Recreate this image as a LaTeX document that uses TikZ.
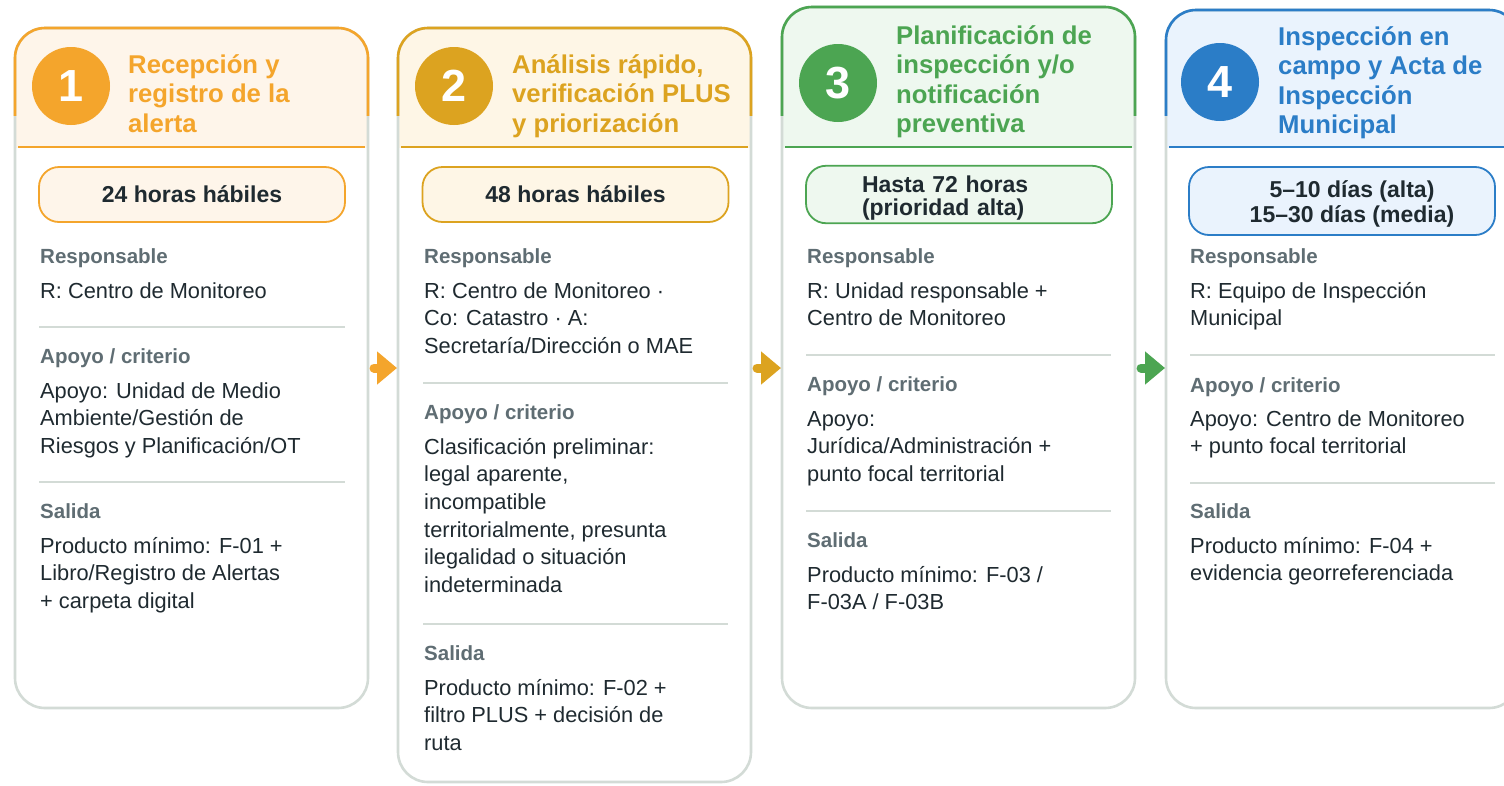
\documentclass[tikz,border=0pt]{standalone}
\usepackage{fontspec}
\setmainfont{Liberation Sans}
\usetikzlibrary{arrows.meta}

\definecolor{accA}{HTML}{F4A52C}
\definecolor{tintA}{HTML}{FEF5EA}
\definecolor{accB}{HTML}{DCA320}
\definecolor{tintB}{HTML}{FEF6E6}
\definecolor{accC}{HTML}{4CA552}
\definecolor{tintC}{HTML}{EEF8EF}
\definecolor{accD}{HTML}{2B7DC7}
\definecolor{tintD}{HTML}{EAF3FD}
\definecolor{framegray}{HTML}{D3DBD6}
\definecolor{headgray}{HTML}{5F6D73}
\definecolor{inkdark}{HTML}{1F2A30}

\tikzset{
  cardframe/.style={line width=2.6pt, rounded corners=30pt},
  stepnum/.style={circle, minimum size=78pt, inner sep=0pt, text=white,
    font=\bfseries\fontsize{45}{45}\selectfont},
  cardtitle/.style={anchor=base west, align=left, inner sep=0pt,
    font=\bfseries\fontsize{25.7}{29.5}\selectfont},
  pillbox/.style={draw, line width=1.8pt, rounded corners=20pt, minimum width=306pt,
    minimum height=55pt, text=inkdark, font=\bfseries\fontsize{23}{23}\selectfont},
  fieldhead/.style={anchor=base west, inner sep=0pt, text=headgray,
    font=\bfseries\fontsize{20.5}{24}\selectfont},
  fieldtext/.style={anchor=base west, align=left, inner sep=0pt, text=inkdark,
    font=\fontsize{21.8}{27.7}\selectfont},
  sepline/.style={draw=framegray, line width=1.5pt},
  flow/.style={line width=9pt, line cap=round, -{Triangle[length=20pt,width=32pt]}}
}

\begin{document}
\begin{tikzpicture}[x=1pt,y=-1pt]
\useasboundingbox (0,0) rectangle (1504,785);

% card frames with tinted headers
\foreach \xa/\ya/\yb/\acc/\bg in {15/28/708/accA/tintA, 398/28/782/accB/tintB,
                                  782/7/708/accC/tintC, 1166/10/708/accD/tintD}
{
  \pgfmathsetmacro\xb{\xa+353}
  \fill[white, rounded corners=30pt] (\xa,\ya) rectangle (\xb,\yb);
  \begin{scope}
    \clip (\xa-5,\ya-5) rectangle (\xb+5,147);
    \fill[\bg, rounded corners=30pt] (\xa,\ya) rectangle (\xb,\yb);
  \end{scope}
  \draw[cardframe, draw=framegray] (\xa,\ya) rectangle (\xb,\yb);
  \begin{scope}
    \clip (\xa-5,\ya-5) rectangle (\xb+5,115);
    \draw[cardframe, draw=\acc] (\xa,\ya) rectangle (\xb,\yb);
  \end{scope}
  \draw[\acc, line width=1.2pt] (\xa+3,147) -- (\xb-3,147);
}

% card 1 (multi-line nodes sit on their last baseline)
\node[stepnum, fill=accA] (n1) at (71,86) {1};
\node[cardtitle, text=accA] (h1) at (128,132) {Recepción y\\registro de la\\alerta};
\node[pillbox, draw=accA, fill=tintA] (t1) at (192,194.5) {24 horas hábiles};
\node[fieldhead] (r1) at (40,263) {Responsable};
\node[fieldtext] (rt1) at (40,298) {R: Centro de Monitoreo};
\draw[sepline] (39,327) -- (345,327);
\node[fieldhead] (a1) at (40,363) {Apoyo / criterio};
\node[fieldtext] (at1) at (40,453.4) {Apoyo: Unidad de Medio\\Ambiente/Gestión de\\Riesgos y Planificación/OT};
\draw[sepline] (39,482) -- (345,482);
\node[fieldhead] (s1) at (40,518) {Salida};
\node[fieldtext] (st1) at (40,608.4) {Producto mínimo: F-01 +\\Libro/Registro de Alertas\\+ carpeta digital};

% card 2
\node[stepnum, fill=accB] (n2) at (454,86) {2};
\node[cardtitle, text=accB] (h2) at (512,132) {Análisis rápido,\\verificación PLUS\\y priorización};
\node[pillbox, draw=accB, fill=tintB] (t2) at (575.5,194.5) {48 horas hábiles};
\node[fieldhead] (r2) at (424,263) {Responsable};
\node[fieldtext] (rt2) at (424,353.4) {R: Centro de Monitoreo ·\\Co: Catastro · A:\\Secretaría/Dirección o MAE};
\draw[sepline] (423,383) -- (728,383);
\node[fieldhead] (a2) at (424,419) {Apoyo / criterio};
\node[fieldtext] (at2) at (424,592.5) {Clasificación preliminar:\\legal aparente,\\incompatible\\territorialmente, presunta\\ilegalidad o situación\\indeterminada};
\draw[sepline] (423,624) -- (728,624);
\node[fieldhead] (s2) at (424,660) {Salida};
\node[fieldtext] (st2) at (424,750.4) {Producto mínimo: F-02 +\\filtro PLUS + decisión de\\ruta};

% card 3
\node[stepnum, fill=accC] (n3) at (838,83) {3};
\node[cardtitle, text=accC] (h3) at (896,132.5) {Planificación de\\inspección y/o\\notificación\\preventiva};
\node[pillbox, draw=accC, fill=tintC, text width=194pt, align=left,
      font=\bfseries\fontsize{23}{23}\selectfont] (t3) at (959,194.5)
      {\rule{0pt}{23pt}Hasta 72 horas\\(prioridad alta)};
\node[fieldhead] (r3) at (807,263) {Responsable};
\node[fieldtext] (rt3) at (807,325.7) {R: Unidad responsable +\\Centro de Monitoreo};
\draw[sepline] (806,355) -- (1111,355);
\node[fieldhead] (a3) at (807,391) {Apoyo / criterio};
\node[fieldtext] (at3) at (807,481.4) {Apoyo:\\Jurídica/Administración +\\punto focal territorial};
\draw[sepline] (806,511) -- (1111,511);
\node[fieldhead] (s3) at (807,547) {Salida};
\node[fieldtext] (st3) at (807,609.7) {Producto mínimo: F-03 /\\F-03A / F-03B};

% card 4
\node[stepnum, fill=accD] (n4) at (1220,82) {4};
\node[cardtitle, text=accD] (h4) at (1278,133.5) {Inspección en\\campo y Acta de\\Inspección\\Municipal};
\node[pillbox, draw=accD, fill=tintD, minimum height=68pt, align=center,
      font=\bfseries\fontsize{23}{25}\selectfont] (t4) at (1342,201)
      {\hspace*{20pt}\rule{0pt}{23pt}5–10 días (alta)\\\hspace*{20pt}15–30 días (media)};
\node[fieldhead] (r4) at (1190,263) {Responsable};
\node[fieldtext] (rt4) at (1190,325.7) {R: Equipo de Inspección\\Municipal};
\draw[sepline] (1190,355) -- (1495,355);
\node[fieldhead] (a4) at (1190,392) {Apoyo / criterio};
\node[fieldtext] (at4) at (1190,453.7) {Apoyo: Centro de Monitoreo\\+ punto focal territorial};
\draw[sepline] (1190,483) -- (1495,483);
\node[fieldhead] (s4) at (1190,518) {Salida};
\node[fieldtext] (st4) at (1190,580.7) {Producto mínimo: F-04 +\\evidencia georreferenciada};

% arrows between cards
\coordinate (out1) at (374,368);
\coordinate (in2) at (397,368);
\coordinate (out2) at (757,368);
\coordinate (in3) at (781,368);
\coordinate (out3) at (1141,368);
\coordinate (in4) at (1165,368);
\draw[flow, accA] (out1) -- (in2);
\draw[flow, accB] (out2) -- (in3);
\draw[flow, accC] (out3) -- (in4);
\end{tikzpicture}
\end{document}
